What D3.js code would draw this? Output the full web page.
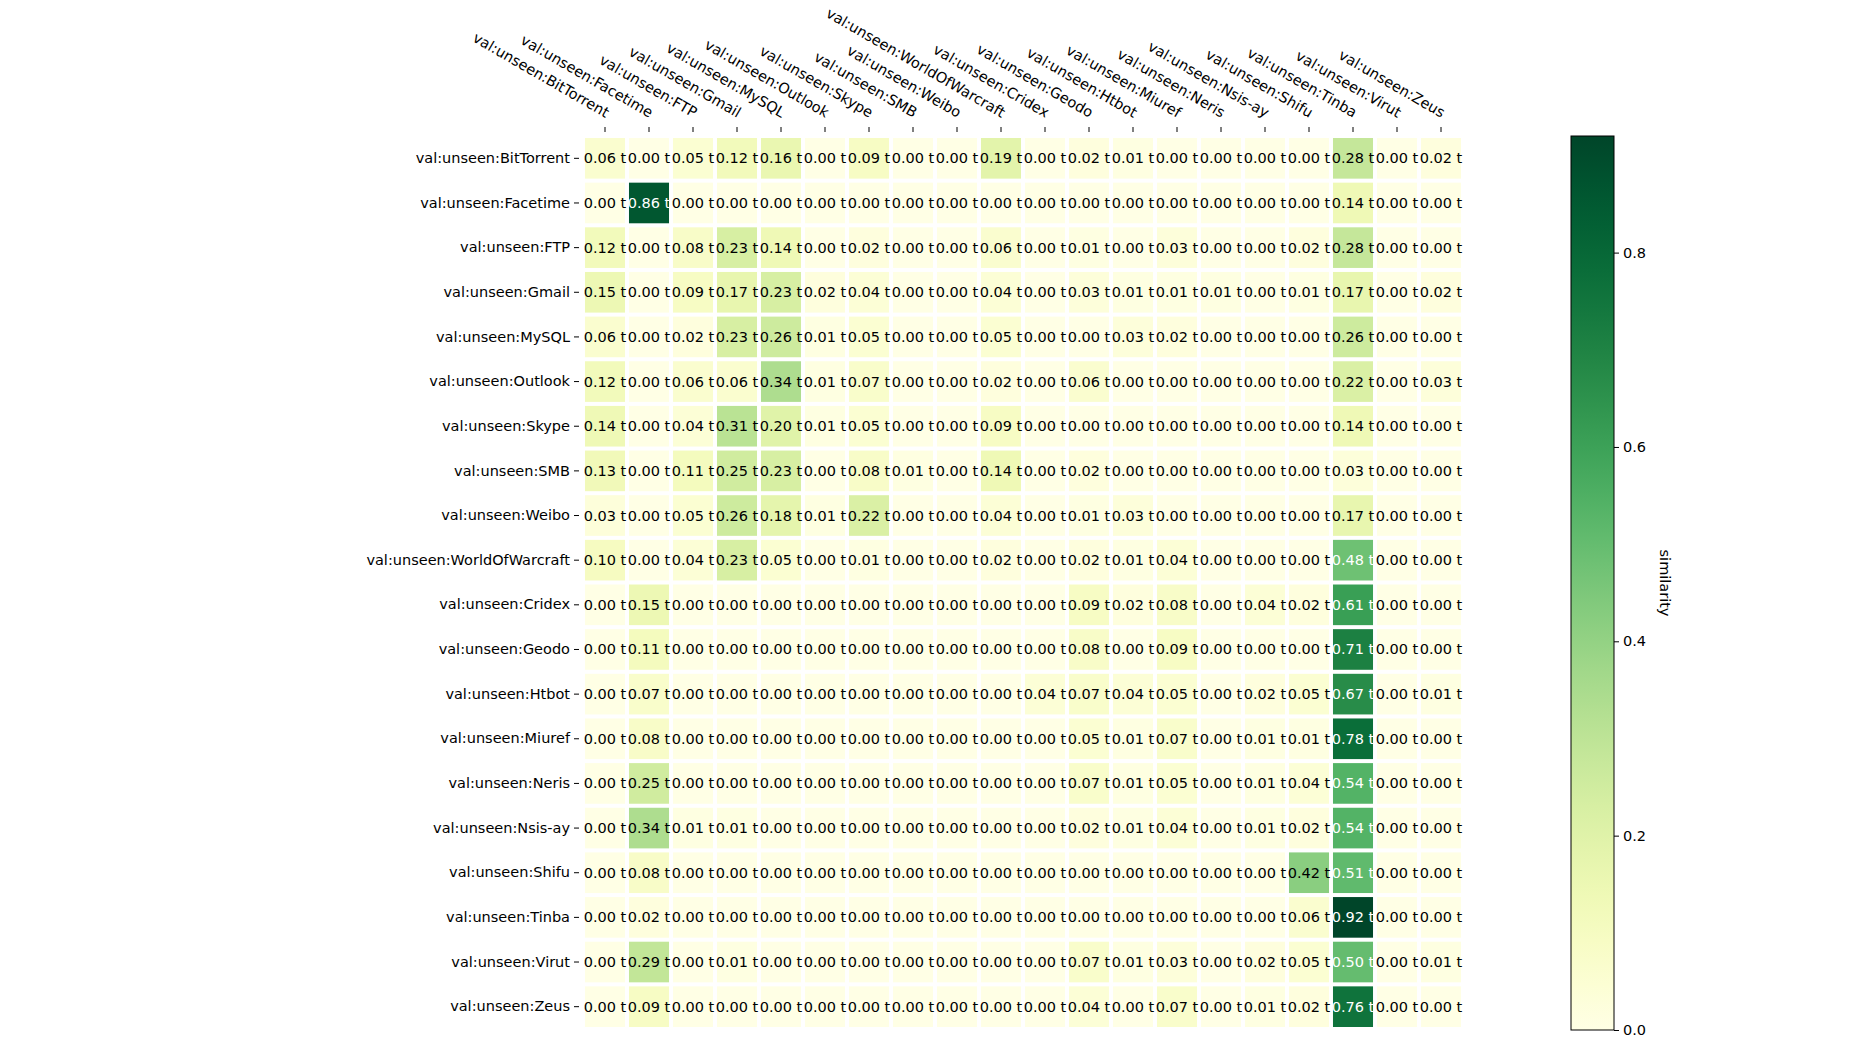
<!DOCTYPE html>
<html><head><meta charset="utf-8">
<script src="https://cdn.jsdelivr.net/npm/d3@7"></script>
<style>body{margin:0;background:#fff}text{font-family:"DejaVu Sans",sans-serif}</style>
</head><body><div id="chart"></div>
<script>
const names = ["BitTorrent","Facetime","FTP","Gmail","MySQL","Outlook","Skype","SMB","Weibo","WorldOfWarcraft","Cridex","Geodo","Htbot","Miuref","Neris","Nsis-ay","Shifu","Tinba","Virut","Zeus"];
const labels = names.map(n => "val:unseen:" + n);
const values = [
[.06,.00,.05,.12,.16,.00,.09,.00,.00,.19,.00,.02,.01,.00,.00,.00,.00,.28,.00,.02],
[.00,.86,.00,.00,.00,.00,.00,.00,.00,.00,.00,.00,.00,.00,.00,.00,.00,.14,.00,.00],
[.12,.00,.08,.23,.14,.00,.02,.00,.00,.06,.00,.01,.00,.03,.00,.00,.02,.28,.00,.00],
[.15,.00,.09,.17,.23,.02,.04,.00,.00,.04,.00,.03,.01,.01,.01,.00,.01,.17,.00,.02],
[.06,.00,.02,.23,.26,.01,.05,.00,.00,.05,.00,.00,.03,.02,.00,.00,.00,.26,.00,.00],
[.12,.00,.06,.06,.34,.01,.07,.00,.00,.02,.00,.06,.00,.00,.00,.00,.00,.22,.00,.03],
[.14,.00,.04,.31,.20,.01,.05,.00,.00,.09,.00,.00,.00,.00,.00,.00,.00,.14,.00,.00],
[.13,.00,.11,.25,.23,.00,.08,.01,.00,.14,.00,.02,.00,.00,.00,.00,.00,.03,.00,.00],
[.03,.00,.05,.26,.18,.01,.22,.00,.00,.04,.00,.01,.03,.00,.00,.00,.00,.17,.00,.00],
[.10,.00,.04,.23,.05,.00,.01,.00,.00,.02,.00,.02,.01,.04,.00,.00,.00,.48,.00,.00],
[.00,.15,.00,.00,.00,.00,.00,.00,.00,.00,.00,.09,.02,.08,.00,.04,.02,.61,.00,.00],
[.00,.11,.00,.00,.00,.00,.00,.00,.00,.00,.00,.08,.00,.09,.00,.00,.00,.71,.00,.00],
[.00,.07,.00,.00,.00,.00,.00,.00,.00,.00,.04,.07,.04,.05,.00,.02,.05,.67,.00,.01],
[.00,.08,.00,.00,.00,.00,.00,.00,.00,.00,.00,.05,.01,.07,.00,.01,.01,.78,.00,.00],
[.00,.25,.00,.00,.00,.00,.00,.00,.00,.00,.00,.07,.01,.05,.00,.01,.04,.54,.00,.00],
[.00,.34,.01,.01,.00,.00,.00,.00,.00,.00,.00,.02,.01,.04,.00,.01,.02,.54,.00,.00],
[.00,.08,.00,.00,.00,.00,.00,.00,.00,.00,.00,.00,.00,.00,.00,.00,.42,.51,.00,.00],
[.00,.02,.00,.00,.00,.00,.00,.00,.00,.00,.00,.00,.00,.00,.00,.00,.06,.92,.00,.00],
[.00,.29,.00,.01,.00,.00,.00,.00,.00,.00,.00,.07,.01,.03,.00,.02,.05,.50,.00,.01],
[.00,.09,.00,.00,.00,.00,.00,.00,.00,.00,.00,.04,.00,.07,.00,.01,.02,.76,.00,.00]
];
const cbTicks = [0, 0.2, 0.4, 0.6, 0.8];

const W = 1850, H = 1050;
const svg = d3.select("#chart").append("svg").attr("width", W).attr("height", H);
const mLeft = 583, mTop = 136, mRight = 1463, mBottom = 1029;
const x = d3.scaleBand().domain(d3.range(20)).range([mLeft, mRight]).paddingInner(0.09).paddingOuter(0.045);
const y = d3.scaleBand().domain(d3.range(20)).range([mTop, mBottom]).paddingInner(0.09).paddingOuter(0.045);
const vmax = 0.92;
const color = d3.scaleSequential(d3.interpolateYlGn).domain([0, vmax]);

const cells = [];
values.forEach((r, i) => r.forEach((v, j) => cells.push({i, j, v})));

const g = svg.append("g");
const cg = g.selectAll("g.c").data(cells).join("g");
cg.append("rect")
  .attr("x", d => x(d.j)).attr("y", d => y(d.i))
  .attr("width", x.bandwidth()).attr("height", y.bandwidth())
  .attr("fill", d => color(d.v));
cg.append("text")
  .attr("x", d => x(d.j) + x.bandwidth() / 2).attr("y", d => y(d.i) + y.bandwidth() / 2)
  .attr("text-anchor", "middle").attr("dominant-baseline", "central")
  .attr("font-size", 14.5)
  .attr("fill", d => d.v > 0.45 ? "#fff" : "#000")
  .text(d => d.v.toFixed(2) + " t");

// y axis
const yAxis = svg.append("g").attr("transform", `translate(${mLeft - 4},0)`)
  .call(d3.axisLeft(d3.scaleBand().domain(labels).range(y.range()).paddingInner(0.09).paddingOuter(0.045)).tickSize(5).tickPadding(4));
yAxis.select(".domain").remove();
yAxis.selectAll("text").attr("font-size", 14.5).attr("font-family", "DejaVu Sans");

// x axis on top
const xAxis = svg.append("g").attr("transform", `translate(0,${mTop - 4})`)
  .call(d3.axisTop(d3.scaleBand().domain(labels).range(x.range()).paddingInner(0.09).paddingOuter(0.045)).tickSize(5).tickPadding(4));
xAxis.select(".domain").remove();
xAxis.selectAll("text").attr("font-size", 14.5).attr("font-family", "DejaVu Sans")
  .attr("text-anchor", "end").attr("transform", "translate(-2,-10) rotate(30)").attr("dy", "0.3em");

// colorbar
const cbX = 1571, cbW = 43, cbTop = 136, cbBot = 1030;
const cy = d3.scaleLinear().domain([0, vmax]).range([cbBot, cbTop]);
const defs = svg.append("defs");
const grad = defs.append("linearGradient").attr("id", "cb").attr("x1", 0).attr("x2", 0).attr("y1", 1).attr("y2", 0);
d3.range(0, 1.0001, 0.05).forEach(t => grad.append("stop").attr("offset", t).attr("stop-color", color(t * vmax)));
svg.append("rect").attr("x", cbX).attr("y", cbTop).attr("width", cbW).attr("height", cbBot - cbTop)
  .attr("fill", "url(#cb)").attr("stroke", "#000").attr("stroke-width", 1);
const cbAxis = svg.append("g").attr("transform", `translate(${cbX + cbW},0)`)
  .call(d3.axisRight(cy).tickValues(cbTicks).tickFormat(d3.format(".1f")).tickSize(5).tickPadding(4));
cbAxis.select(".domain").remove();
cbAxis.selectAll("text").attr("font-size", 14.5).attr("font-family", "DejaVu Sans");
svg.append("text").attr("transform", `translate(1660,${(cbTop + cbBot) / 2}) rotate(90)`)
  .attr("text-anchor", "middle").attr("font-size", 14.5).text("similarity");
</script></body></html>
